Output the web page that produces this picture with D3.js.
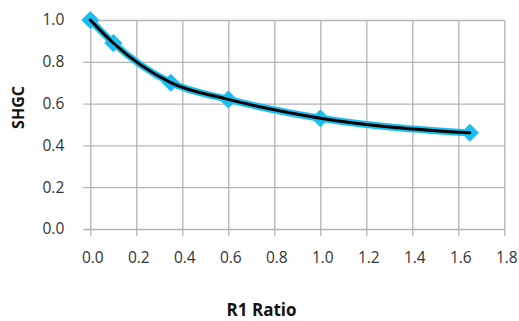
<!DOCTYPE html>
<html><head><meta charset="utf-8">
<script src="https://cdn.jsdelivr.net/npm/d3@7"></script>
<style>body{margin:0;background:#fff}svg{display:block}</style>
</head><body>
<script>
const ratios = [0, 0.1, 0.35, 0.6, 1.0, 1.65];
const shgc = [1.0, 0.89, 0.70, 0.62, 0.53, 0.46];
const xTicks = [0, 0.2, 0.4, 0.6, 0.8, 1.0, 1.2, 1.4, 1.6, 1.8];
const yTicks = [0, 0.2, 0.4, 0.6, 0.8, 1.0];
const xTitle = "R1 Ratio";
const yTitle = "SHGC";

const W = 519, H = 321;
const svg = d3.select("body").append("svg").attr("width", W).attr("height", H);
const x = d3.scaleLinear().domain([0, 1.8]).range([90.3, 504.3]);
const y = d3.scaleLinear().domain([0, 1.0]).range([229, 20]);
const data = ratios.map((r, i) => ({r, v: shgc[i]}));
const font = "'Open Sans', sans-serif";
const grid = "#b4b4b4";
const tickFs = 15.5;

// grid + ticks
const gx = svg.append("g").attr("transform", `translate(0,${y(0)})`)
  .call(d3.axisBottom(x).tickValues(xTicks).tickFormat(d3.format(".1f"))
    .tickSize(0).tickPadding(22.5));
gx.select(".domain").remove();
gx.selectAll(".tick line").attr("stroke", grid).attr("stroke-width", 1.3).attr("y2", 7).attr("y1", -(y(0)-y(1)));
gx.selectAll(".tick text").attr("font-family", font).attr("font-size", tickFs).attr("fill", "#333").attr("dx", 2);

const gy = svg.append("g").attr("transform", `translate(${x(0)},0)`)
  .call(d3.axisLeft(y).tickValues(yTicks).tickFormat(d3.format(".1f")).tickSize(0).tickPadding(26));
gy.select(".domain").remove();
gy.selectAll(".tick line").attr("stroke", grid).attr("stroke-width", 1.3)
  .attr("x1", -7).attr("x2", x(1.8) - x(0));
gy.selectAll(".tick text").attr("font-family", font).attr("font-size", tickFs).attr("fill", "#333");

// series
const line = d3.line().x(d => x(d.r)).y(d => y(d.v)).curve(d3.curveMonotoneX);
svg.append("path").datum(data).attr("d", line).attr("fill", "none")
  .attr("stroke", "#1abdef").attr("stroke-width", 7).attr("stroke-linejoin", "round");
svg.append("g").selectAll("path").data(data).join("path")
  .attr("transform", d => `translate(${x(d.r)},${y(d.v)})`)
  .attr("d", "M0,-9L9,0L0,9L-9,0Z").attr("fill", "#1abdef");
svg.append("path").datum(data).attr("d", line).attr("fill", "none")
  .attr("stroke", "#000").attr("stroke-width", 3).attr("stroke-linecap", "round");

// titles
svg.append("text").attr("x", 261.6).attr("y", 316).attr("text-anchor", "middle")
  .attr("font-family", font).attr("font-weight", "bold").attr("font-size", 17).attr("fill", "#111").text(xTitle);
svg.append("text").attr("transform", `translate(23.5,107.5) rotate(-90)`).attr("text-anchor", "middle")
  .attr("font-family", font).attr("font-weight", "bold").attr("font-size", 16).attr("fill", "#111").text(yTitle);
</script>
</body></html>
